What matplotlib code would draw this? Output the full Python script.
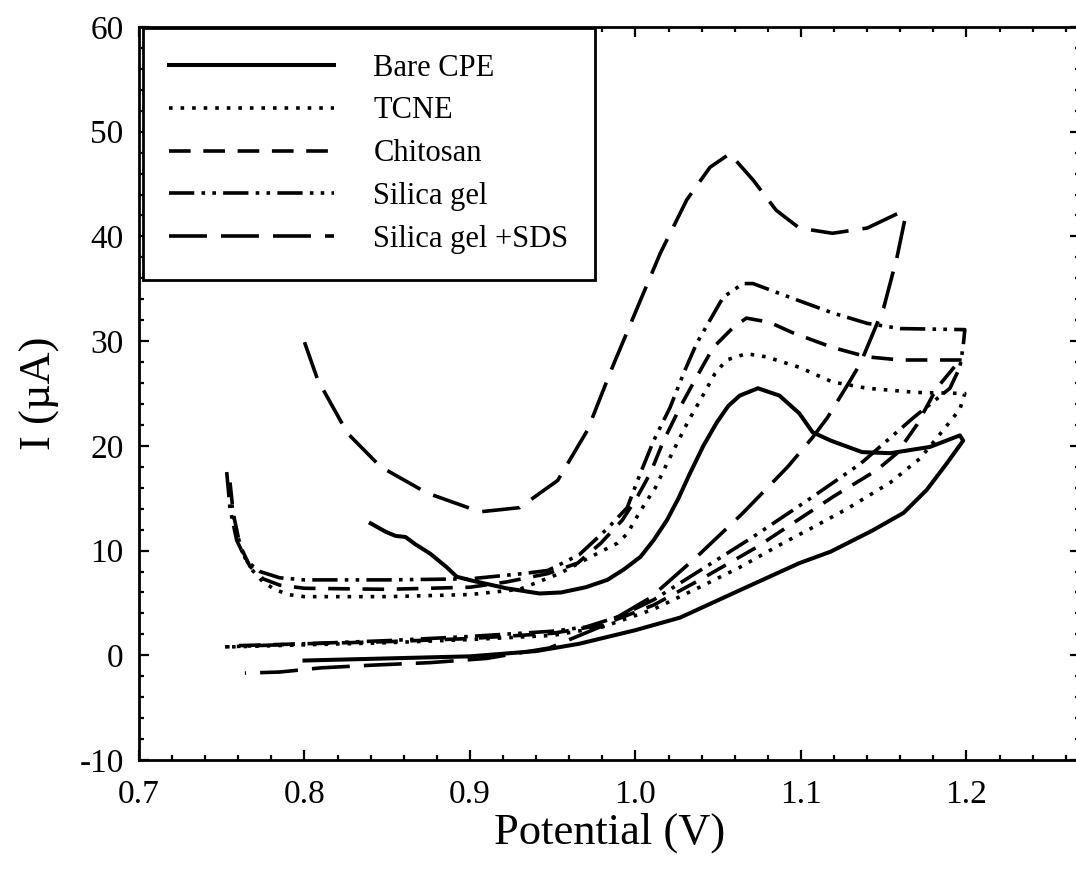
import matplotlib
matplotlib.use('Agg')
import matplotlib.pyplot as plt
from matplotlib.ticker import MultipleLocator, FormatStrFormatter

plt.rcParams['font.family'] = ['Liberation Serif', 'DejaVu Serif']
plt.rcParams['axes.unicode_minus'] = False

# Bare CPE (solid)
bare_x = [0.840, 0.849, 0.855, 0.861, 0.867, 0.876, 0.886, 0.892, 0.902, 0.922, 0.942, 0.955,
          0.970, 0.983, 0.993, 1.003, 1.011, 1.019, 1.026, 1.033, 1.041, 1.049, 1.056, 1.063,
          1.074, 1.087, 1.099, 1.107, 1.118, 1.137, 1.154, 1.178, 1.196,
          1.198, 1.188, 1.176, 1.162, 1.143, 1.118, 1.099, 1.067, 1.027, 1.000, 0.966, 0.940,
          0.900, 0.850, 0.800]
bare_y = [12.6, 11.8, 11.4, 11.3, 10.6, 9.7, 8.4, 7.5, 7.1, 6.4, 5.9, 6.0,
          6.5, 7.2, 8.2, 9.4, 11.0, 12.9, 15.0, 17.4, 20.0, 22.2, 23.8, 24.8,
          25.5, 24.8, 23.1, 21.3, 20.5, 19.4, 19.3, 19.9, 21.0,
          20.5, 18.3, 15.8, 13.6, 11.9, 9.9, 8.8, 6.5, 3.6, 2.4, 1.1, 0.4,
          -0.1, -0.3, -0.5]

# TCNE (dotted)
tcne_x = [0.755, 0.758, 0.762, 0.768, 0.775, 0.782, 0.790, 0.800, 0.850, 0.900, 0.930, 0.954,
          0.973, 0.989, 0.995, 1.003, 1.012, 1.019, 1.025, 1.032, 1.040, 1.048, 1.055, 1.067,
          1.079, 1.099, 1.119, 1.140, 1.170, 1.199,
          1.196, 1.187, 1.172, 1.154, 1.128, 1.107, 1.089, 1.063, 1.040, 1.011, 0.980, 0.950,
          0.900, 0.850, 0.800, 0.755]
tcne_y = [15.5, 12.5, 10.0, 8.2, 7.0, 6.3, 5.8, 5.6, 5.6, 5.8, 6.3, 7.8,
          9.4, 10.7, 11.6, 13.8, 16.0, 18.3, 20.2, 22.4, 24.6, 26.9, 28.2, 28.8,
          28.5, 27.5, 26.1, 25.5, 25.1, 25.0,
          23.5, 21.7, 18.8, 16.5, 14.0, 12.2, 10.7, 8.4, 6.6, 4.4, 2.7, 1.9,
          1.5, 1.2, 1.0, 0.8]

# Chitosan (dashed)
chit_x = [0.755, 0.757, 0.761, 0.767, 0.775, 0.785, 0.800, 0.850, 0.900, 0.922, 0.947, 0.965,
          0.979, 0.992, 1.001, 1.009, 1.017, 1.027, 1.037, 1.047, 1.059, 1.067, 1.081, 1.095,
          1.119, 1.140, 1.160, 1.198,
          1.193, 1.182, 1.170, 1.158, 1.146, 1.120, 1.095, 1.073, 1.040, 1.011, 0.980, 0.950,
          0.900, 0.850, 0.800, 0.755]
chit_y = [16.5, 13.5, 10.5, 8.5, 7.3, 6.7, 6.4, 6.3, 6.5, 7.0, 7.8, 8.8,
          10.7, 12.9, 15.1, 17.4, 20.5, 23.7, 26.6, 29.4, 31.3, 32.2, 31.8, 30.8,
          29.4, 28.5, 28.2, 28.2,
          27.6, 25.5, 22.0, 19.3, 17.7, 15.2, 12.6, 10.3, 7.3, 4.8, 2.9, 2.1,
          1.6, 1.3, 1.1, 0.9]

# Silica gel (dash-dot-dot)
sil_x = [0.753, 0.755, 0.759, 0.765, 0.773, 0.785, 0.800, 0.850, 0.900, 0.932, 0.947, 0.966,
         0.983, 0.995, 1.003, 1.011, 1.021, 1.029, 1.037, 1.045, 1.053, 1.065, 1.071, 1.093,
         1.119, 1.140, 1.160, 1.199,
         1.198, 1.196, 1.190, 1.168, 1.136, 1.104, 1.071, 1.040, 1.011, 0.990, 0.970, 0.950,
         0.900, 0.850, 0.800, 0.752]
sil_y = [17.5, 14.0, 11.0, 9.0, 8.0, 7.4, 7.2, 7.2, 7.3, 7.8, 8.1, 9.6,
         12.1, 14.1, 17.4, 20.5, 23.7, 26.9, 29.8, 32.0, 34.2, 35.5, 35.5, 34.2,
         32.7, 31.7, 31.2, 31.1,
         29.5, 27.5, 25.5, 22.7, 18.3, 14.8, 11.3, 8.2, 5.3, 3.7, 2.7, 2.3,
         1.8, 1.4, 1.1, 0.8]

# Silica gel + SDS (long dash)
sds_x = [0.800, 0.808, 0.826, 0.846, 0.874, 0.906, 0.930, 0.953, 0.971, 0.986, 1.003, 1.015,
         1.031, 1.045, 1.057, 1.071, 1.085, 1.099, 1.119, 1.140, 1.160, 1.163,
         1.158, 1.150, 1.136, 1.130, 1.116, 1.107, 1.092, 1.065, 1.037, 1.009, 0.980, 0.948,
         0.910, 0.876, 0.840, 0.810, 0.785, 0.764]
sds_y = [29.9, 26.3, 21.2, 18.0, 15.5, 13.7, 14.1, 16.7, 21.5, 27.5, 33.9, 38.4,
         43.5, 46.6, 47.9, 45.4, 42.5, 40.8, 40.3, 40.8, 42.3, 41.8,
         38.0, 33.2, 27.9, 26.3, 22.7, 20.8, 18.0, 13.6, 9.4, 5.5, 2.8, 0.7,
         -0.3, -0.7, -0.95, -1.2, -1.6, -1.7]

labels = ['Bare CPE', 'TCNE', 'Chitosan', 'Silica gel', 'Silica gel +SDS']

fig = plt.figure(figsize=(10.76, 8.71), dpi=100)
ax = fig.add_axes([139 / 1076, 111 / 871, 941 / 1076, 733 / 871])

lw = 2.6
ax.plot(bare_x, bare_y, color='black', lw=lw + 0.3, linestyle='-', label=labels[0])
ax.plot(tcne_x, tcne_y, color='black', lw=lw, linestyle=(0, (1, 2.2)), label=labels[1])
ax.plot(chit_x, chit_y, color='black', lw=lw, linestyle=(0, (6.0, 3.5)), label=labels[2])
ax.plot(sil_x, sil_y, color='black', lw=lw, linestyle=(0, (7.0, 2.0, 1, 2.0, 1, 2.0)), label=labels[3])
ax.plot(sds_x, sds_y, color='black', lw=lw, linestyle=(0, (10.5, 3.9)), label=labels[4])

ax.set_xlim(0.7, 1.2686)
ax.set_ylim(-10, 60)
ax.xaxis.set_major_locator(MultipleLocator(0.1))
ax.xaxis.set_minor_locator(MultipleLocator(0.02))
ax.yaxis.set_major_locator(MultipleLocator(10))
ax.yaxis.set_minor_locator(MultipleLocator(2))
ax.xaxis.set_major_formatter(FormatStrFormatter('%.1f'))

ax.tick_params(which='both', direction='in', top=True, right=True, width=1.6)
ax.tick_params(which='major', length=7)
ax.tick_params(which='minor', length=3.5)
ax.tick_params(axis='x', labelsize=24, pad=14)
ax.tick_params(axis='y', labelsize=24, pad=11)
for s in ax.spines.values():
    s.set_linewidth(2.0)

ax.set_xlabel('Potential (V)', fontsize=32, labelpad=2)
ax.set_ylabel('I (\u00b5A)', fontsize=32, labelpad=14)

leg = ax.legend(loc='upper left', bbox_to_anchor=(0.004, 0.999), borderaxespad=0,
                fontsize=22, handlelength=5.4, handletextpad=1.3, labelspacing=0.45,
                borderpad=0.85, fancybox=False, framealpha=1, edgecolor='black')
leg.get_frame().set_linewidth(2.0)

fig.savefig('out.png', dpi=100)
